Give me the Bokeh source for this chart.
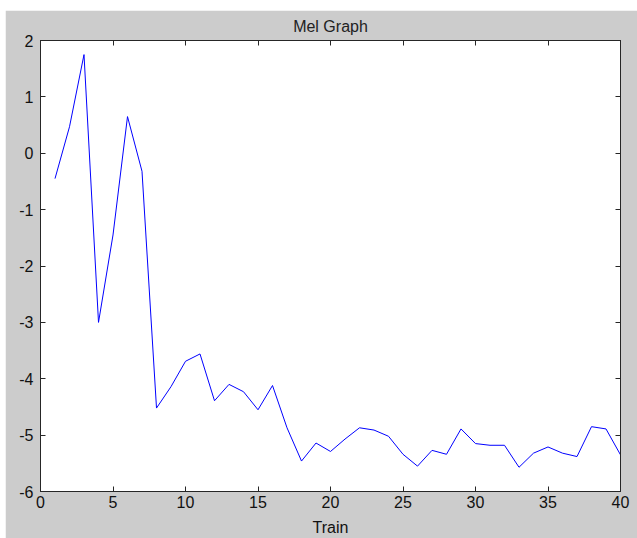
from bokeh.plotting import figure
from bokeh.models import LinearAxis, Range1d, FixedTicker, Spacer
from bokeh.layouts import column, row
from bokeh.embed import file_html
from bokeh.resources import INLINE

x_vals = list(range(1, 41))
y_vals = [-0.45, 0.47, 1.75, -3.0, -1.45, 0.65, -0.32, -4.52, -4.14, -3.69,
          -3.56, -4.39, -4.10, -4.23, -4.55, -4.12, -4.87, -5.46, -5.14, -5.29,
          -5.07, -4.87, -4.91, -5.02, -5.34, -5.55, -5.27, -5.34, -4.89, -5.15,
          -5.18, -5.18, -5.57, -5.32, -5.21, -5.32, -5.38, -4.85, -4.89, -5.35]
x_ticks = [0, 5, 10, 15, 20, 25, 30, 35, 40]
y_ticks = [-6, -5, -4, -3, -2, -1, 0, 1, 2]
title_text = "Mel Graph"
x_label = "Train"

FONT = "Liberation Sans"
AX = "#262626"
BG = "#cccccc"

p = figure(width=632, height=528, output_backend="svg", toolbar_location=None,
           x_range=Range1d(0, 40), y_range=Range1d(-6, 2),
           x_axis_label=x_label,
           min_border_left=35, min_border_right=17, min_border_top=30, min_border_bottom=42)

p.background_fill_color = "white"
p.border_fill_color = BG
p.outline_line_color = AX
p.grid.visible = False

for ax, ticks in ((p.xaxis[0], x_ticks), (p.yaxis[0], y_ticks)):
    ax.ticker = FixedTicker(ticks=ticks)
    ax.major_label_overrides = {t: str(t) for t in ticks}
    ax.major_tick_in = 5
    ax.major_tick_out = 0
    ax.minor_tick_in = 0
    ax.minor_tick_out = 0
    ax.axis_line_color = AX
    ax.major_tick_line_color = AX
    ax.major_label_text_font = FONT
    ax.major_label_text_font_size = "16px"
    ax.major_label_text_color = "#111111"
    ax.axis_label_text_font = FONT
    ax.axis_label_text_font_size = "16px"
    ax.axis_label_text_font_style = "normal"
    ax.axis_label_text_color = "#111111"
p.xaxis[0].major_label_standoff = 4
p.yaxis[0].major_label_standoff = 7
p.xaxis[0].axis_label_standoff = 8

# top axis carries the chart title (centred over the frame, like MATLAB)
top = LinearAxis(ticker=FixedTicker(ticks=x_ticks), major_tick_in=5, major_tick_out=0,
                 minor_tick_in=0, minor_tick_out=0,
                 major_label_overrides={t: "" for t in x_ticks},
                 axis_line_color=AX, major_tick_line_color=AX, major_label_standoff=0,
                 axis_label=title_text, axis_label_text_font=FONT,
                 axis_label_text_font_size="16px", axis_label_text_font_style="normal",
                 axis_label_text_color="#222222", axis_label_standoff=6)
right = LinearAxis(ticker=FixedTicker(ticks=y_ticks), major_tick_in=5, major_tick_out=0,
                   minor_tick_in=0, minor_tick_out=0,
                   major_label_overrides={t: "" for t in y_ticks},
                   axis_line_color=AX, major_tick_line_color=AX, major_label_standoff=0)
p.add_layout(top, "above")
p.add_layout(right, "right")

p.line(x_vals, y_vals, line_color="#0000ff", line_width=1)

layout = column(Spacer(height=10), row(Spacer(width=5), p), spacing=0)

open("out.html", "w").write(file_html(layout, INLINE))
